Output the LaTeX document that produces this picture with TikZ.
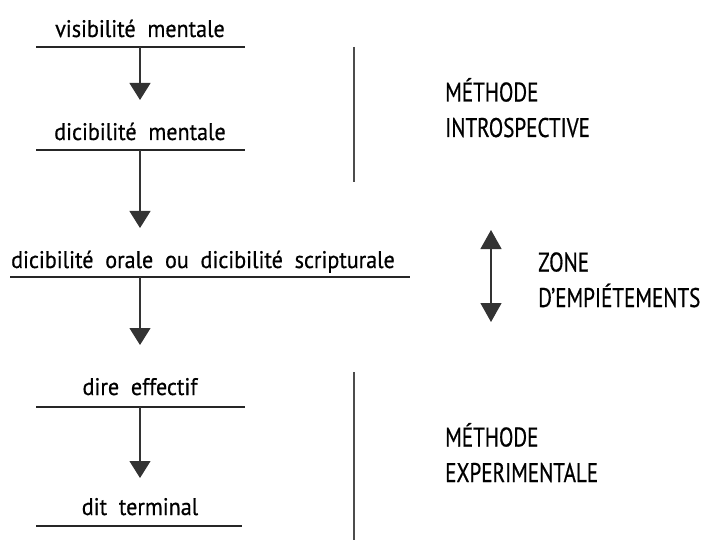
\documentclass[tikz,border=0pt]{standalone}
\usepackage{fontspec}
\usetikzlibrary{arrows.meta}
\newfontfamily\labfont[FakeStretch=0.92,FakeBold=0.6]{PT Sans}
\newfontfamily\capfont[FakeStretch=0.78,FakeBold=0.6]{PT Sans}
\tikzset{
  lab/.style={anchor=base, inner sep=0pt, font=\labfont\fontsize{24pt}{26pt}\selectfont},
  captext/.style={anchor=base west, inner sep=0pt, align=left, font=\capfont\fontsize{27pt}{35.5pt}\selectfont},
  rule/.style={line width=1.3pt, black!85},
  bar/.style={line width=1.6pt, black!70},
  flow/.style={line width=1.2pt, black!80, -{Triangle[length=17pt,width=21pt]}},
  both/.style={line width=1.2pt, black!80, {Triangle[length=19pt,width=21pt]}-{Triangle[length=19pt,width=21pt]}}
}
\begin{document}
\begin{tikzpicture}[x=1pt,y=-1pt]
\useasboundingbox (0,0) rectangle (704,540);
% texts
\node[lab] (t1) at (140,37) {visibilité\ \ mentale};
\node[lab] (t2) at (140,140) {dicibilité\ \ mentale};
\node[lab] (t3) at (203,268) {dicibilité\ \ orale\ \ ou\ \ dicibilité\ \ scripturale};
\node[lab] (t4) at (140,395) {dire\ \ effectif};
\node[lab] (t5) at (140,515) {dit\ \ terminal};
% underlines
\coordinate (u1L) at (36,47);  \coordinate (u1R) at (245,47);  \coordinate (u1C) at (140,47);
\coordinate (u2L) at (36,150); \coordinate (u2R) at (245,150); \coordinate (u2C) at (140,150);
\coordinate (u3L) at (10,277); \coordinate (u3R) at (410,277); \coordinate (u3C) at (140,277);
\coordinate (u4L) at (36,407); \coordinate (u4R) at (245,407); \coordinate (u4C) at (140,407);
\coordinate (u5L) at (36,526); \coordinate (u5R) at (242,526);
\draw[rule] (u1L) -- (u1R);
\draw[rule] (u2L) -- (u2R);
\draw[rule] (u3L) -- (u3R);
\draw[rule] (u4L) -- (u4R);
\draw[rule] (u5L) -- (u5R);
% arrow tips
\coordinate (a1) at (140,100);
\coordinate (a2) at (140,228);
\coordinate (a3) at (140,345);
\coordinate (a4) at (140,478);
\draw[flow] (u1C) -- (a1);
\draw[flow] (u2C) -- (a2);
\draw[flow] (u3C) -- (a3);
\draw[flow] (u4C) -- (a4);
% vertical bars
\coordinate (b1T) at (354,47);  \coordinate (b1B) at (354,182);
\coordinate (b2T) at (354,372); \coordinate (b2B) at (354,540);
\draw[bar] (b1T) -- (b1B);
\draw[bar] (b2T) -- (b2B);
% double arrow
\coordinate (dT) at (491,230); \coordinate (dB) at (491,322);
\draw[both] (dT) -- (dB);
% right labels (anchor = baseline of the last line)
\node[captext] (m1) at (445,137) {MÉTHODE\\INTROSPECTIVE};
\node[captext] (z1) at (538,307) {ZONE\\D’EMPIÉTEMENTS};
\node[captext] (m2) at (445,482) {MÉTHODE\\EXPERIMENTALE};
\end{tikzpicture}
\end{document}
